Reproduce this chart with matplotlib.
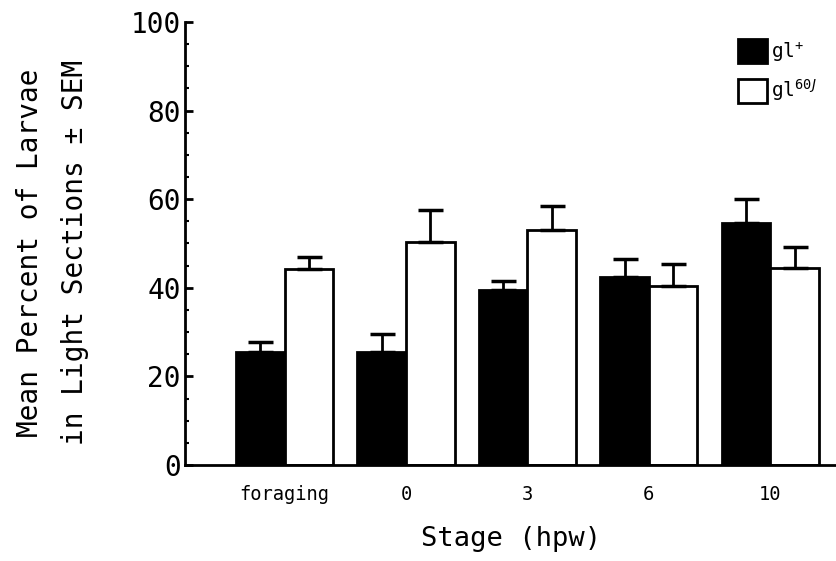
import matplotlib
matplotlib.use("Agg")
import matplotlib.pyplot as plt
import matplotlib.patches as mpatches
from matplotlib.ticker import MultipleLocator
import numpy as np

# values
stages = ["foraging", "0", "3", "6", "10"]
gl_plus = [25.4, 25.4, 39.6, 42.5, 54.7]
gl_plus_sem = [2.4, 4.1, 2.0, 3.9, 5.4]
gl_60j = [44.3, 50.3, 53.0, 40.3, 44.4]
gl_60j_sem = [2.7, 7.2, 5.4, 5.0, 4.9]

plt.rcParams['font.family'] = ['DejaVu Sans Mono', 'DejaVu Sans']
plt.rcParams['mathtext.fontset'] = 'custom'
plt.rcParams['mathtext.rm'] = 'DejaVu Sans Mono'

fig = plt.figure(figsize=(8.37, 5.61), dpi=100)
ax = fig.add_axes([0.221, 0.171, 0.779, 0.79])

x = np.arange(len(stages))
w = 0.4
err_kw = dict(ecolor="black", elinewidth=2, capsize=9, capthick=2.5)
ax.bar(x - w / 2, gl_plus, w, color="black", edgecolor="black", linewidth=2,
       yerr=[np.zeros(len(x)), gl_plus_sem], error_kw=err_kw, zorder=2)
ax.bar(x + w / 2, gl_60j, w, color="white", edgecolor="black", linewidth=2,
       yerr=[np.zeros(len(x)), gl_60j_sem], error_kw=err_kw, zorder=2)

ax.set_xlim(-0.82, 4.55)
ax.set_ylim(0, 100)
ax.spines['top'].set_visible(False)
ax.spines['right'].set_visible(False)
ax.spines['left'].set_linewidth(2)
ax.spines['bottom'].set_linewidth(2)

ax.yaxis.set_major_locator(MultipleLocator(20))
ax.yaxis.set_minor_locator(MultipleLocator(5))
ax.tick_params(axis='y', which='major', direction='in', length=6, width=2,
               labelsize=20, pad=3)
ax.tick_params(axis='y', which='minor', direction='in', length=3, width=1.5)
ax.set_xticks(x)
ax.set_xticklabels(stages)
ax.tick_params(axis='x', length=0, labelsize=13.5, pad=14)

ax.set_xlabel("Stage (hpw)", fontsize=19.5, labelpad=16)
fig.text(0.036, 0.55, "Mean Percent of Larvae", rotation=90, fontsize=20,
         ha='center', va='center')
fig.text(0.09, 0.55, "in Light Sections \u00b1 SEM", rotation=90, fontsize=20,
         ha='center', va='center')

handles = [mpatches.Patch(facecolor="black", edgecolor="black", linewidth=2),
           mpatches.Patch(facecolor="white", edgecolor="black", linewidth=2)]
ax.legend(handles, ["gl$^{+}$", "gl$^{60J}$"], loc='upper right',
          bbox_to_anchor=(0.995, 1.0), frameon=False, fontsize=14,
          handlelength=1.45, handleheight=1.5, handletextpad=0.2,
          labelspacing=0.7)

fig.savefig("out.png", dpi=100)
